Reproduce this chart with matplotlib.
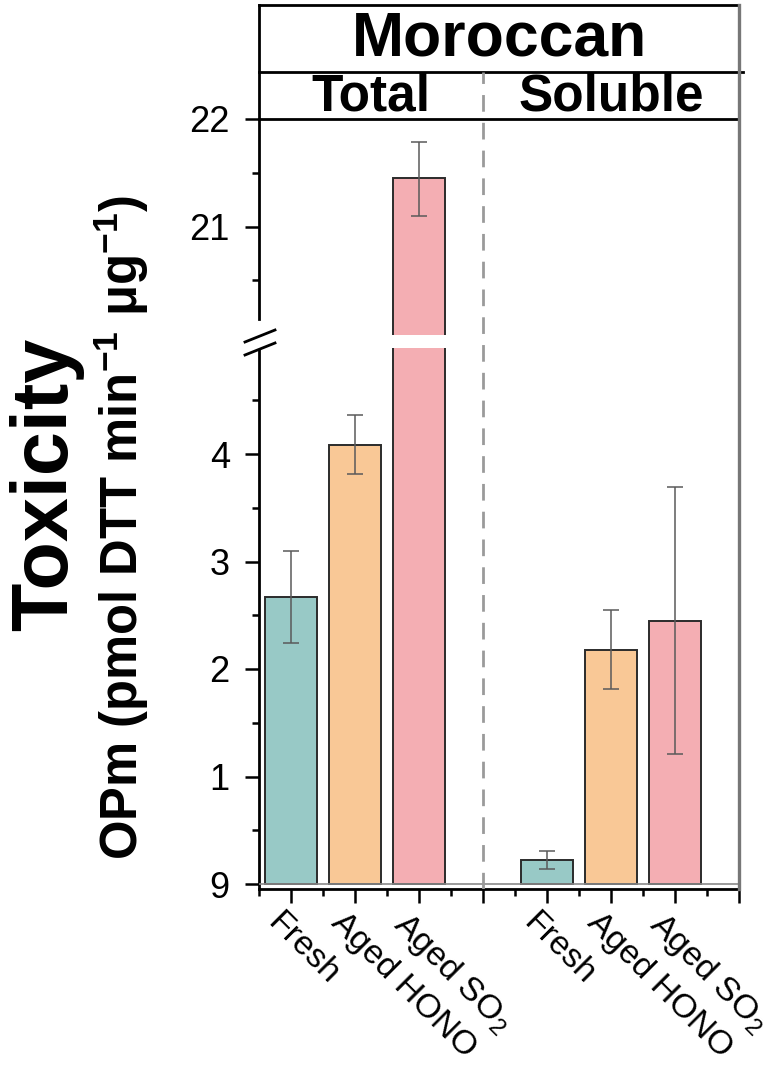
import matplotlib
matplotlib.use("Agg")
import matplotlib.pyplot as plt
import matplotlib.transforms as mtransforms
from matplotlib.lines import Line2D
from matplotlib.ticker import FixedLocator, MultipleLocator

plt.rcParams['font.family'] = ['Liberation Sans', 'DejaVu Sans']
plt.rcParams['mathtext.fontset'] = 'custom'
plt.rcParams['mathtext.rm'] = 'Liberation Sans'
plt.rcParams['mathtext.default'] = 'regular'

# OPm values (pmol DTT min^-1 ug^-1) with error bars
groups = ["Total", "Soluble"]
conditions = ["Fresh", "Aged HONO", "Aged SO$_2$"]
x_pos = [1, 2, 3, 5, 6, 7]
tick_labels = conditions + [""] + conditions + [""]
values = [2.67, 4.08, 21.45, 0.22, 2.18, 2.45]
err_low = [0.43, 0.27, 0.35, 0.08, 0.37, 1.24]
err_high = [0.43, 0.28, 0.34, 0.09, 0.37, 1.24]
bar_colors = ["#98c9c6", "#f9c896", "#f4aeb3"] * 2
low_ticks = [0, 1, 2, 3, 4]
low_tick_labels = ["9", "1", "2", "3", "4"]
high_ticks = [21, 22]

W, H, DPI = 778, 1066, 100
fig = plt.figure(figsize=(W / DPI, H / DPI), dpi=DPI)


def box(left, top, right, bottom):
    # pixel box -> figure fraction rect
    return [left / W, 1 - bottom / H, (right - left) / W, (bottom - top) / H]


def px(x, y):
    return x / W, 1 - y / H


X0, X1 = 259, 739
PPU = 107.5  # pixels per y unit, shared by both panels

ax_hi = fig.add_axes(box(X0, 119, X1, 335))
ax_lo = fig.add_axes(box(X0, 348, X1, 889))
ax_head = fig.add_axes(box(X0, 5, X1, 119))
ax_frame = fig.add_axes(box(X0, 5, X1, 889), zorder=5)

hi_bottom = 22 - (335 - 119) / PPU
lo_bottom = -(889 - 884) / PPU
lo_top = (884 - 348) / PPU

for ax in (ax_hi, ax_lo):
    ax.bar(x_pos, values, width=0.8, color=bar_colors, edgecolor="#2b2b2b",
           linewidth=1.4, zorder=2)
    ax.errorbar(x_pos, values, yerr=[err_low, err_high], fmt="none",
                ecolor="#5a5a5a", elinewidth=1.1, capsize=5.5, capthick=1.1,
                zorder=3)
    ax.set_xlim(0.5, 8)
    ax.set_facecolor("none")
    ax.spines["right"].set_visible(False)
    ax.spines["left"].set_linewidth(2.0)
    ax.tick_params(axis="y", which="major", direction="out", length=10,
                   width=1.8, labelsize=26, pad=11)
    ax.tick_params(axis="y", which="minor", direction="out", length=5,
                   width=1.8)
    ax.yaxis.set_minor_locator(MultipleLocator(0.5))

# upper panel (broken part)
ax_hi.set_ylim(hi_bottom, 22)
ax_hi.spines["left"].set_bounds(20.14, 22)
ax_hi.spines["bottom"].set_visible(False)
ax_hi.spines["top"].set_linewidth(2.0)
ax_hi.yaxis.set_major_locator(FixedLocator(high_ticks))
ax_hi.yaxis.set_minor_locator(FixedLocator([20.5, 21.5]))
ax_hi.set_xticks([])

# lower panel
ax_lo.set_ylim(lo_bottom, lo_top)
ax_lo.spines["left"].set_bounds(lo_bottom, lo_top - 0.02)
ax_lo.spines["top"].set_visible(False)
ax_lo.spines["bottom"].set_linewidth(2.0)
ax_lo.yaxis.set_major_locator(FixedLocator(low_ticks))
ax_lo.set_yticklabels(low_tick_labels)
ax_lo.axhline(0, color="#8a8a8a", lw=1.2, zorder=4)
ax_lo.set_xticks(x_pos[:3] + [4] + x_pos[3:] + [8])
ax_lo.set_xticklabels(tick_labels, rotation=-45, ha="left", va="top",
                      rotation_mode="anchor")
ax_lo.xaxis.set_minor_locator(FixedLocator([0.5 + i for i in range(8)]))
ax_lo.tick_params(axis="x", which="major", direction="out", length=10,
                  width=1.8, labelsize=24.5, pad=3)
ax_lo.tick_params(axis="x", which="minor", direction="out", length=5,
                  width=1.8)
# nudge the slanted labels a little to the left of their ticks
shift = mtransforms.ScaledTranslation(-8 / DPI, 0, fig.dpi_scale_trans)
for lbl in ax_lo.get_xticklabels():
    lbl.set_transform(lbl.get_transform() + shift)

# header with sample and fraction names
ax_head.set_xlim(0.5, 8)
ax_head.set_ylim(0, 1)
ax_head.set_xticks([])
ax_head.set_yticks([])
ax_head.set_facecolor("none")
for side in ("right", "bottom"):
    ax_head.spines[side].set_visible(False)
for side in ("top", "left"):
    ax_head.spines[side].set_linewidth(2.0)
mid = (119 - 72) / (119 - 5)
ax_head.axhline(mid, xmin=0, xmax=1.008, color="black", lw=2.0, clip_on=False)
ax_head.text(4.25, (mid + 1) / 2, "Moroccan", ha="center", va="center",
             fontsize=45, fontweight="bold")
ax_head.text(2.25, mid / 2 - 0.01, groups[0], ha="center", va="center",
             fontsize=37, fontweight="bold")
ax_head.text(6.0, mid / 2 - 0.01, groups[1], ha="center", va="center",
             fontsize=37, fontweight="bold")

# divider between Total and Soluble, right border
ax_frame.set_xlim(0.5, 8)
ax_frame.set_ylim(0, 1)
ax_frame.axis("off")
ax_frame.axvline(4, ymin=0, ymax=(889 - 72) / (889 - 5), color="#9a9a9a",
                 lw=2.0, dashes=(6, 4))
ax_frame.axvline(8, ymin=0, ymax=1, color="#777777", lw=2.4, clip_on=False)

# break marks on the y axis
for y_mid in (336, 349):
    xa, ya = px(245, y_mid + 6)
    xb, yb = px(275, y_mid - 6)
    fig.add_artist(Line2D([xa, xb], [ya, yb], color="black", lw=2.0))

fig.text(*px(47, 484), "Toxicity", rotation=90, ha="center", va="center",
         fontsize=57, fontweight="bold")
fig.text(*px(121, 527), "OPm (pmol DTT min$^{-1}$ μg$^{-1}$)", rotation=90,
         ha="center", va="center", fontsize=36.5, fontweight="bold")

fig.savefig("out.png", dpi=DPI)
